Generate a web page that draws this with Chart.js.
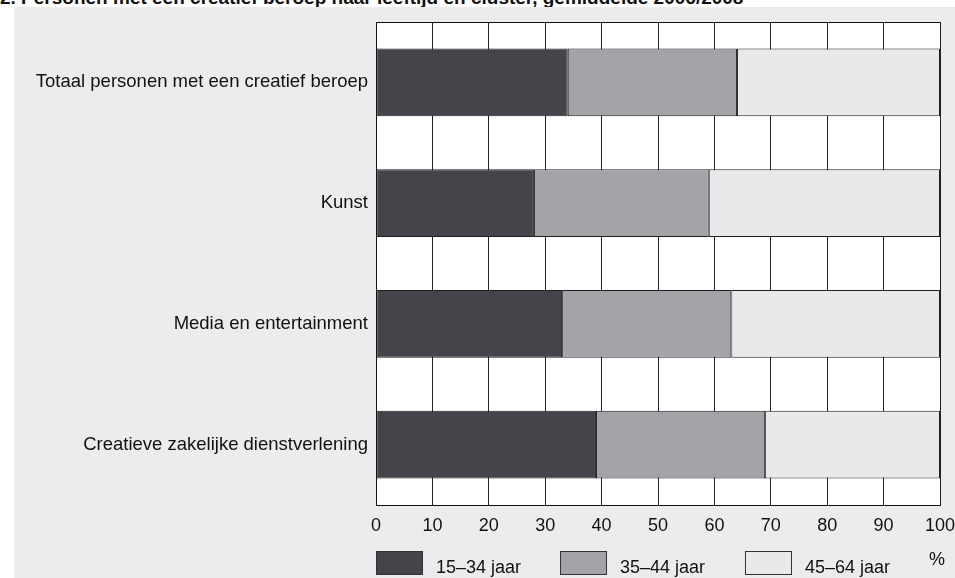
<!DOCTYPE html>
<html>
<head>
<meta charset="utf-8">
<script src="https://cdn.jsdelivr.net/npm/chart.js@4/dist/chart.umd.min.js"></script>
<style>
  html, body { margin: 0; padding: 0; background: #ffffff; }
  body { width: 955px; height: 578px; position: relative; overflow: hidden; }
  #title {
    position: absolute; left: 0; top: -12px; white-space: nowrap;
    font: bold 19px "Liberation Sans", Arial, sans-serif; line-height: 19px; color: #111;
  }
  #panel { position: absolute; left: 14px; top: 7px; width: 941px; height: 571px; background: #ececee; }
  #chart { display: block; }
</style>
</head>
<body>
<div id="title">2. Personen met een creatief beroep naar leeftijd en cluster, gemiddelde 2006/2008</div>
<div id="panel"><canvas id="chart" width="941" height="571"></canvas></div>
<script>
// categories (top to bottom)
const Categories = [
    'Totaal personen met een creatief beroep',
    'Kunst',
    'Media en entertainment',
    'Creatieve zakelijke dienstverlening'
];
// shares in %, per age group
const Age15to34 = [34, 28, 33, 39];
const Age35to44 = [30, 31, 30, 30];
const Age45to64 = [36, 41, 37, 31];
const SeriesLabels = ['15–34 jaar', '35–44 jaar', '45–64 jaar'];
const SeriesColors = ['#46444a', '#a4a3a8', '#e8e9eb'];
const XTicks = [0, 10, 20, 30, 40, 50, 60, 70, 80, 90, 100];
const UnitLabel = '%';

const FONT = '"Liberation Sans", Arial, sans-serif';

// white plot area + top frame line
const plotFrame = {
    id: 'plotFrame',
    beforeDraw(chart) {
        const a = chart.chartArea, ctx = chart.ctx;
        ctx.save();
        ctx.fillStyle = '#ffffff';
        ctx.fillRect(a.left, a.top, a.right - a.left, a.bottom - a.top);
        ctx.restore();
    },
    beforeDatasetsDraw(chart) {
        const a = chart.chartArea, ctx = chart.ctx;
        ctx.save();
        ctx.strokeStyle = '#111';
        ctx.lineWidth = 1;
        ctx.beginPath();
        ctx.moveTo(a.left, Math.round(a.top) + 0.5);
        ctx.lineTo(a.right, Math.round(a.top) + 0.5);
        ctx.stroke();
        ctx.restore();
    }
};

// legend row under the x axis, boxes placed along the x scale
const bottomLegend = {
    id: 'bottomLegend',
    afterDraw(chart) {
        const ctx = chart.ctx, xs = chart.scales.x;
        const step = 32.7;
        const boxTop = 544, boxW = 46, boxH = 23;
        ctx.save();
        ctx.font = '18px ' + FONT;
        ctx.textBaseline = 'middle';
        ctx.textAlign = 'left';
        chart.data.datasets.forEach((ds, i) => {
            const x0 = Math.round(xs.getPixelForValue(i * step));
            ctx.fillStyle = ds.backgroundColor;
            ctx.fillRect(x0, boxTop, boxW, boxH);
            ctx.strokeStyle = '#333';
            ctx.lineWidth = 1;
            ctx.strokeRect(x0 + 0.5, boxTop + 0.5, boxW, boxH);
            ctx.fillStyle = '#111';
            ctx.fillText(ds.label, x0 + boxW + 14, boxTop + boxH / 2 + 6);
        });
        ctx.textAlign = 'center';
        ctx.fillText(UnitLabel, xs.right - 3, boxTop + 9);
        ctx.restore();
    }
};

const ChartData = {
    labels: Categories,
    datasets: [Age15to34, Age35to44, Age45to64].map((vals, i) => ({
        label: SeriesLabels[i],
        data: vals,
        backgroundColor: SeriesColors[i],
        borderColor: '#1e1e1e',
        borderWidth: 1,
        borderSkipped: false,
        categoryPercentage: 1.0,
        barPercentage: 0.562
    }))
};

const ChartConfig = {
    type: 'bar',
    data: ChartData,
    options: {
        indexAxis: 'y',
        responsive: false,
        animation: false,
        layout: { padding: { left: 0, right: 15, top: 15, bottom: 43 } },
        scales: {
            x: {
                stacked: true,
                min: 0,
                max: 100,
                afterBuildTicks: (scale) => { scale.ticks = XTicks.map(v => ({ value: v })); },
                afterFit: (scale) => {
                    scale.height = 30;
                    scale.paddingLeft = 0;
                    scale.paddingRight = 0;
                },
                grid: { color: '#222', lineWidth: 1, drawTicks: false },
                border: { display: true, color: '#111', width: 1 },
                ticks: { color: '#111', font: { family: FONT, size: 18 }, padding: 10 }
            },
            y: {
                stacked: true,
                afterFit: (scale) => {
                    scale.width = 362;
                    scale.paddingTop = 0;
                    scale.paddingBottom = 0;
                },
                grid: { display: false, drawTicks: false },
                border: { display: true, color: '#111', width: 1 },
                ticks: { color: '#111', font: { family: FONT, size: 18.5 }, padding: 8 }
            }
        },
        plugins: {
            legend: { display: false },
            tooltip: { enabled: false },
            title: { display: false }
        }
    },
    plugins: [plotFrame, bottomLegend]
};

const LineChart = new Chart(document.getElementById('chart').getContext('2d'), ChartConfig);
</script>
</body>
</html>
